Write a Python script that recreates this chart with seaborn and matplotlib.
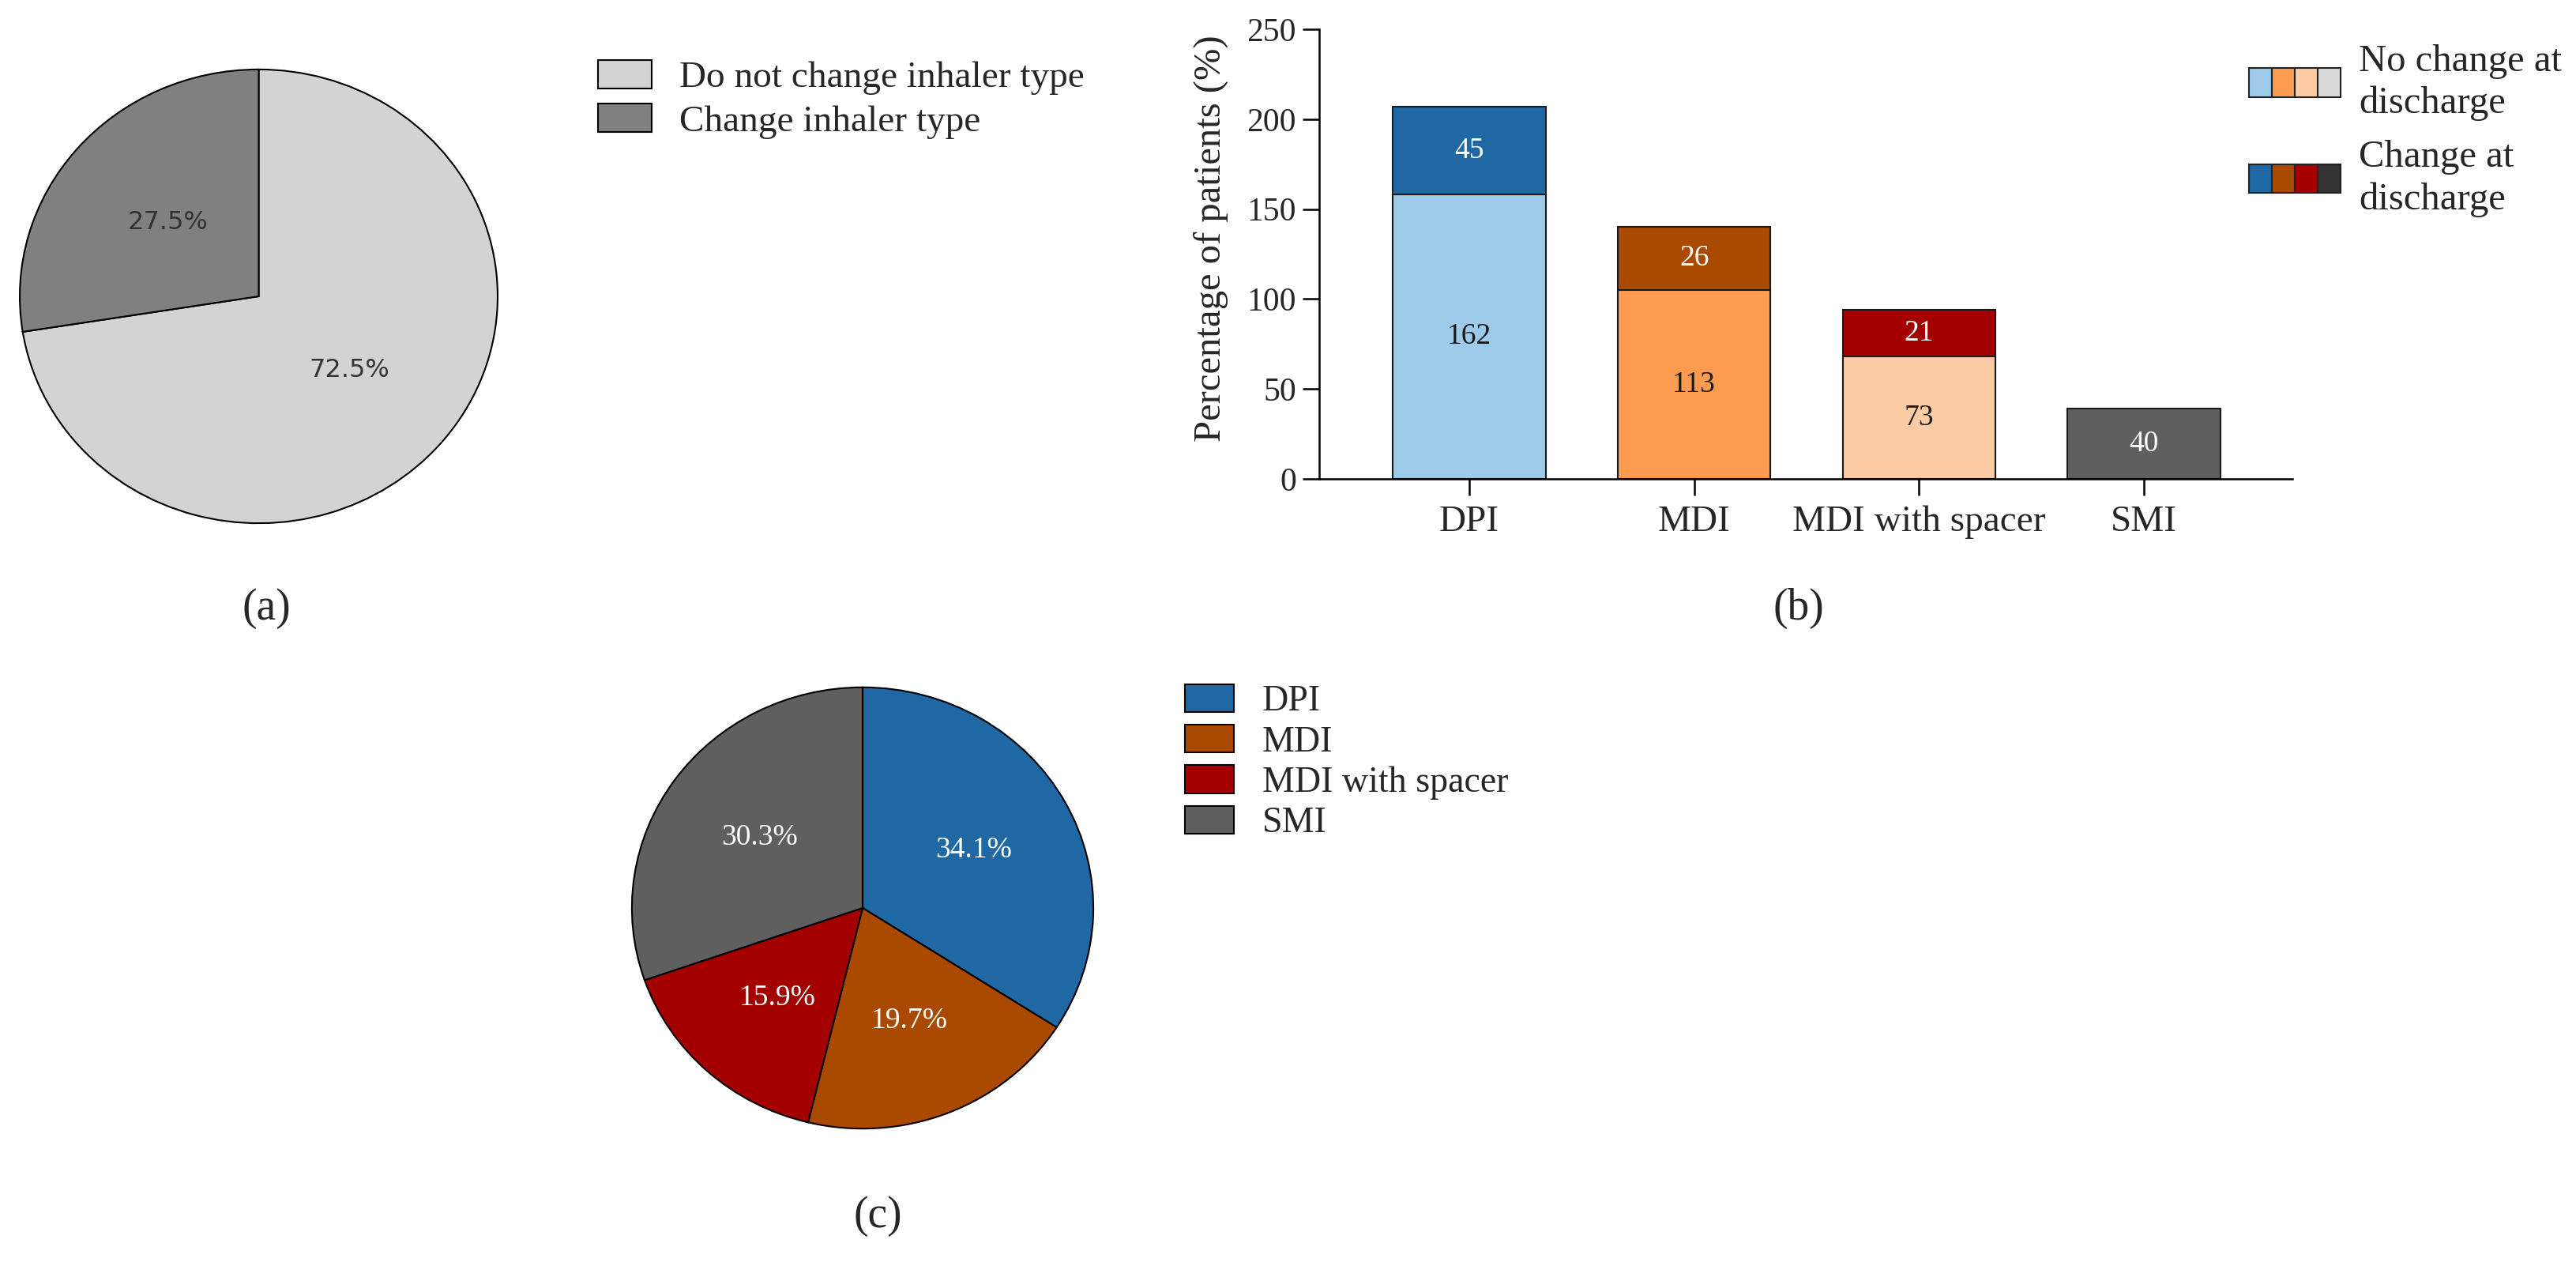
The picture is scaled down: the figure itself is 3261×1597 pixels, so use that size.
import matplotlib
matplotlib.use("Agg")
import matplotlib.pyplot as plt
import seaborn as sns
import pandas as pd
from matplotlib.legend_handler import HandlerBase
from matplotlib.patches import Rectangle, Patch

# (a) share of patients whose inhaler type changed
switch_labels = ["Do not change inhaler type", "Change inhaler type"]
switch_pct = [72.5, 27.5]
switch_colors = ["#d3d3d3", "#808080"]

# (b) inhaler device at admission, split by change at discharge
devices = ["DPI", "MDI", "MDI with spacer", "SMI"]
no_change = [158, 105, 68, 0]
change = [49, 35, 26, 39]
no_change_text = ["162", "113", "73", ""]
change_text = ["45", "26", "21", "40"]
light_colors = ["#9ecae9", "#fd9c51", "#fdcba4", "#dadada"]
dark_colors = ["#2068a3", "#aa4a00", "#a50000", "#5f5f5f"]
legend_light = ["#9ecae9", "#fd9c51", "#fdcba4", "#dadada"]
legend_dark = ["#2068a3", "#aa4a00", "#a50000", "#333333"]

# (c) new device after change
new_pct = [34.1, 19.7, 15.9, 30.3]
new_colors = ["#2068a3", "#aa4a00", "#a50000", "#5f5f5f"]

sns.set_style("ticks")
plt.rcParams["font.family"] = ["Liberation Serif", "DejaVu Serif"]


class Swatch:
    def __init__(self, colors):
        self.colors = colors


class SwatchHandler(HandlerBase):
    # draws a row of small colour boxes as one legend key
    def create_artists(self, legend, orig_handle, xdescent, ydescent,
                       width, height, fontsize, trans):
        n = len(orig_handle.colors)
        w = width / n
        return [Rectangle((-xdescent + i * w, -ydescent), w, height,
                          facecolor=c, edgecolor="#222222", linewidth=1.5,
                          transform=trans)
                for i, c in enumerate(orig_handle.colors)]


W, H = 3262, 1597
fig = plt.figure(figsize=(W / 100, H / 100), dpi=100)

# ---- (a) pie ----
axa = fig.add_axes([22 / W, 1 - 665 / H, 611 / W, 580 / H])
axa.pie(switch_pct, colors=switch_colors, startangle=90, counterclock=False,
        autopct="%.1f%%", pctdistance=0.5,
        wedgeprops=dict(edgecolor="black", linewidth=1.5),
        textprops=dict(family="DejaVu Sans", size=23, color="#333333"))
axa.set_aspect("auto")
axa.set_xlim(-1.01, 1.01)
axa.set_ylim(-1.01, 1.01)
fig.legend(handles=[Patch(facecolor=c, edgecolor="black", linewidth=1.5, label=l)
                    for c, l in zip(switch_colors, switch_labels)],
           loc="upper left", bbox_to_anchor=(757 / W, 1 - 76 / H),
           frameon=False, fontsize=34, borderpad=0, borderaxespad=0,
           handlelength=1.43, handleheight=0.8, handletextpad=0.75,
           labelspacing=0.23)

# ---- (b) stacked bars ----
axb = fig.add_axes([1670 / W, 1 - 606 / H, 1232 / W, 569 / H])
df = pd.DataFrame({"device": devices,
                   "total": [a + b for a, b in zip(no_change, change)],
                   "no_change": no_change})
sns.barplot(data=df, x="device", y="total", hue="device", palette=dark_colors,
            width=0.68, saturation=1, edgecolor="#1a1a1a", linewidth=1.5,
            legend=False, ax=axb)
sns.barplot(data=df, x="device", y="no_change", hue="device", palette=light_colors,
            width=0.68, saturation=1, edgecolor="#1a1a1a", linewidth=1.5,
            legend=False, ax=axb)
for i in range(len(devices)):
    if no_change_text[i]:
        axb.text(i, no_change[i] / 2, no_change_text[i], ha="center", va="center",
                 fontsize=27, color="#1a1a1a")
    axb.text(i, no_change[i] + change[i] / 2, change_text[i], ha="center",
             va="center", fontsize=27, color="white")
axb.set_ylim(0, 250)
axb.set_yticks([0, 50, 100, 150, 200, 250])
axb.set_xlim(-0.667, 3.66)
axb.set_xlabel("")
axb.set_ylabel("Percentage of patients (%)", fontsize=35)
axb.yaxis.set_label_coords(-0.093, 0.534)
axb.tick_params(axis="y", length=15, width=1.8, labelsize=30, pad=6, color="black")
axb.tick_params(axis="x", length=15, width=1.8, labelsize=34, pad=9, color="black")
sns.despine(ax=axb)
for s in ["left", "bottom"]:
    axb.spines[s].set_linewidth(1.8)
    axb.spines[s].set_color("black")
leg_b = fig.legend(handles=[Swatch(legend_light), Swatch(legend_dark)],
                   labels=["No change at\ndischarge", "Change at\ndischarge"],
                   handler_map={Swatch: SwatchHandler()},
                   loc="upper left", bbox_to_anchor=(2847 / W, 1 - 56 / H),
                   frameon=False, fontsize=35, borderpad=0, borderaxespad=0,
                   handlelength=2.39, handleheight=0.78, handletextpad=0.47,
                   labelspacing=0.5)
for t in leg_b.get_texts():
    t.set_linespacing(1.25)

# ---- (c) pie ----
axc = fig.add_axes([797 / W, 1 - 1431 / H, 590 / W, 564 / H])
axc.pie(new_pct, colors=new_colors, startangle=90, counterclock=False,
        autopct="%.1f%%", pctdistance=0.55,
        wedgeprops=dict(edgecolor="black", linewidth=1.5),
        textprops=dict(size=27, color="white"))
axc.set_aspect("auto")
axc.set_xlim(-1.01, 1.01)
axc.set_ylim(-1.01, 1.01)
fig.legend(handles=[Patch(facecolor=c, edgecolor="black", linewidth=1.5, label=l)
                    for c, l in zip(new_colors, devices)],
           loc="upper left", bbox_to_anchor=(1500 / W, 1 - 866 / H),
           frameon=False, fontsize=33, borderpad=0, borderaxespad=0,
           handlelength=1.35, handleheight=0.8, handletextpad=0.78,
           labelspacing=0.17)

# panel letters
fig.text(337 / W, 1 - 770 / H, "(a)", ha="center", va="center", fontsize=40)
fig.text(2277 / W, 1 - 770 / H, "(b)", ha="center", va="center", fontsize=40)
fig.text(1111 / W, 1 - 1539 / H, "(c)", ha="center", va="center", fontsize=40)

fig.savefig("out.png", dpi=100)
